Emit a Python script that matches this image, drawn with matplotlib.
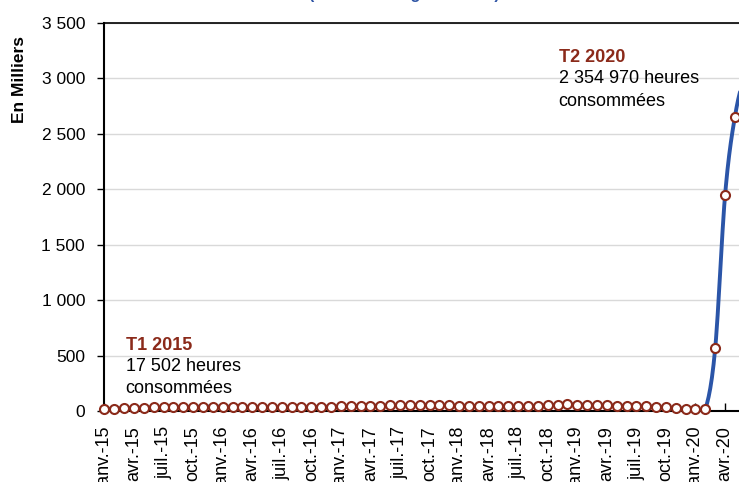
"""Heures consommées, trimestre en glissement (en milliers), janv. 2015 - juin 2020."""
import matplotlib.pyplot as plt
import numpy as np

# monthly values, in thousands of hours
values = [
    17, 20, 25, 28, 30, 32, 33, 35, 36, 38, 40, 40,      # 2015
    40, 38, 37, 37, 36, 36, 35, 34, 34, 35, 37, 40,      # 2016
    42, 44, 45, 47, 48, 50, 52, 55, 56, 55, 53, 50,      # 2017
    48, 46, 44, 43, 42, 41, 42, 44, 47, 52, 56, 60,      # 2018
    58, 55, 52, 50, 48, 46, 44, 42, 38, 32, 25, 20,      # 2019
    18, 17, 565, 1945, 2655, 3000,                       # 2020
]
months = ["janv.", "avr.", "juil.", "oct."]
years = ["15", "16", "17", "18", "19", "20", "21"]
tick_labels = [f"{m}-{y}" for y in years for m in months]

ann_t1 = ["T1 2015", "17 502 heures", "consommées"]
ann_t2 = ["T2 2020", "2 354 970 heures", "consommées"]
title = "(trimestre en glissement)"

C_LINE, C_MARK, C_TITLE = "#2b55a8", "#8b2a1a", "#2f55a5"

plt.rcParams.update({
    "font.family": ["Liberation Sans", "DejaVu Sans"],
    "font.size": 12,
})


def smooth(y, n=12):
    """Catmull-Rom curve through the points (Excel-like smoothed line)."""
    y = np.asarray(y, float)
    p = np.concatenate([[y[0]], y, [y[-1]]])
    xs, ys = [], []
    t = np.linspace(0, 1, n, endpoint=False)
    for i in range(len(y) - 1):
        p0, p1, p2, p3 = p[i], p[i + 1], p[i + 2], p[i + 3]
        seg = 0.5 * (2 * p1 + (-p0 + p2) * t + (2 * p0 - 5 * p1 + 4 * p2 - p3) * t ** 2
                     + (-p0 + 3 * p1 - 3 * p2 + p3) * t ** 3)
        xs.append(i + t)
        ys.append(seg)
    xs.append([len(y) - 1])
    ys.append([y[-1]])
    return np.concatenate(xs), np.concatenate(ys)


fig = plt.figure(figsize=(7.39, 4.82), dpi=100)
left, bottom, top = 104.5 / 739, 1 - 411 / 482, 1 - 23 / 482
span = 70
ax = fig.add_axes([left, bottom, span * 9.85 / 739, top - bottom])

x = np.arange(len(values))
sx, sy = smooth(values)
ax.plot(sx, sy, color=C_LINE, lw=2.8, zorder=3, solid_capstyle="round")
ax.plot(x, values, "o", ms=6.5, mfc="white", mec=C_MARK, mew=1.5, zorder=4, clip_on=False)

ax.set_yticks(np.arange(0, 3501, 500))
ax.yaxis.set_major_formatter(plt.FuncFormatter(lambda v, _: f"{v:,.0f}".replace(",", " ")))
ax.grid(axis="y", color="#d9d9d9", lw=1)
ax.set_axisbelow(True)
ax.tick_params(axis="y", direction="out", length=5, width=1, labelsize=12.5, pad=9)

ax.set_xticks(np.arange(0, 3 * len(tick_labels), 3))
ax.set_xticklabels(tick_labels, rotation=90, fontsize=13)
ax.tick_params(axis="x", direction="in", length=6, width=1, pad=11)
ax.set_xlim(0, span)
ax.set_ylim(0, 3500)

for s in ("left", "bottom", "top", "right"):
    ax.spines[s].set_linewidth(1.5)
ax.spines["top"].set_linewidth(1.2)
ax.set_ylabel("En Milliers", fontweight="bold", fontsize=12.5)
ax.yaxis.set_label_coords(-0.113, 0.855)

for txt, yv, bold in zip(ann_t1, (595, 397, 207), (True, False, False)):
    ax.text(2.15, yv, txt, color=C_MARK if bold else "black",
            fontweight="bold" if bold else "normal", fontsize=13, va="center")
for txt, yv, bold in zip(ann_t2, (3193, 2995, 2796), (True, False, False)):
    ax.text(46.1, yv, txt, color=C_MARK if bold else "black",
            fontweight="bold" if bold else "normal", fontsize=13, va="center")

# title sits above the visible area: only its descenders show
fig.text(404 / 739, 1 + 1 / 482, title, color=C_TITLE, fontweight="bold",
         fontsize=11.5, ha="center", va="baseline")

fig.savefig("out.png", dpi=100)
